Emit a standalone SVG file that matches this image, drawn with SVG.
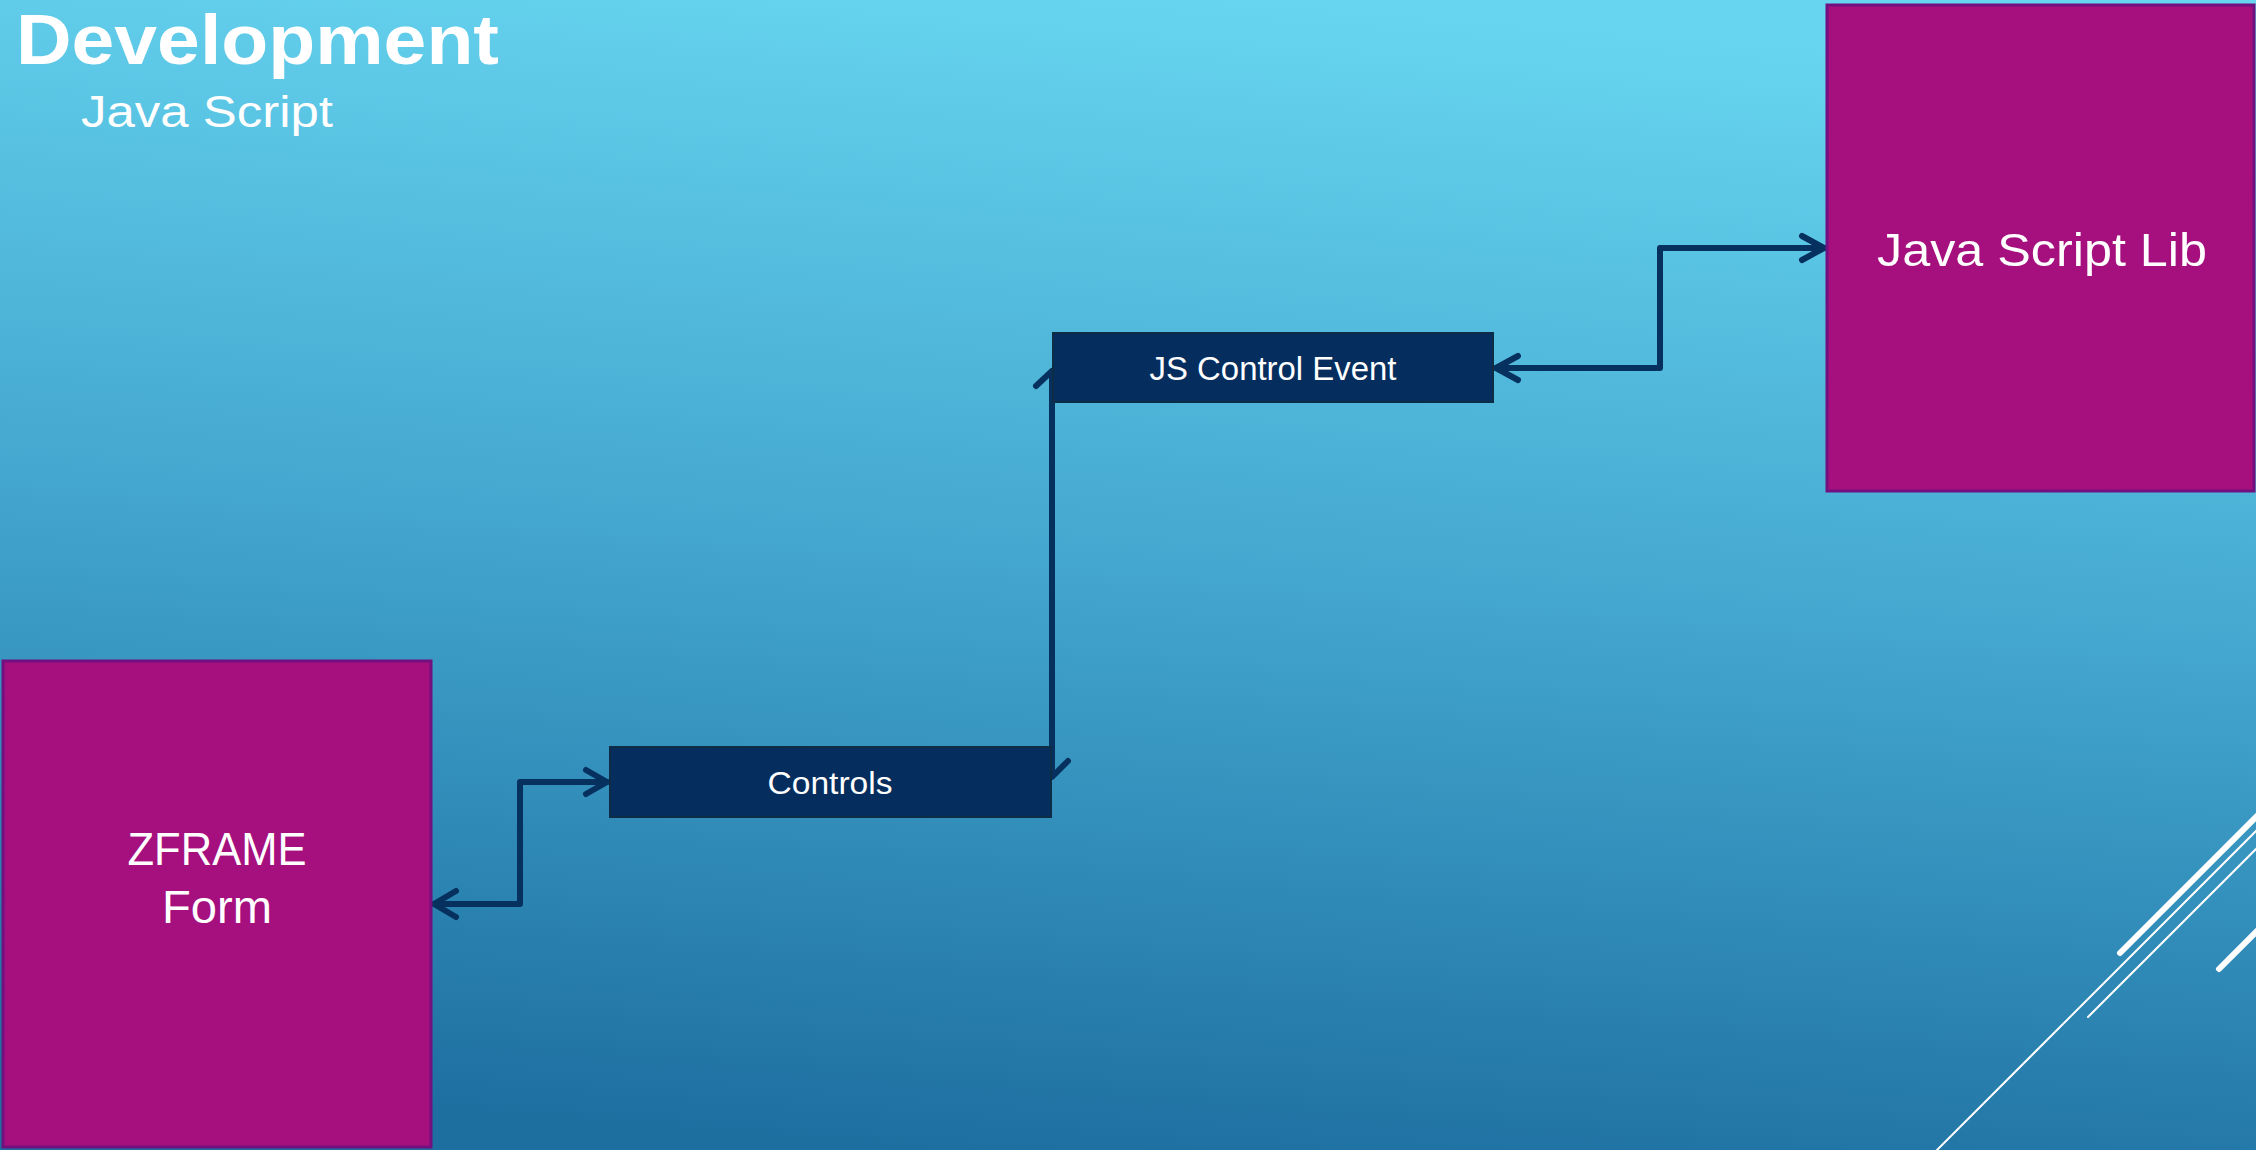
<svg xmlns="http://www.w3.org/2000/svg" width="2256" height="1150" viewBox="0 0 2256 1150">
<defs>
<linearGradient id="bg" x1="0.58" y1="0" x2="0.42" y2="1">
<stop offset="0" stop-color="#67d5f0"/>
<stop offset="0.5" stop-color="#43a6ce"/>
<stop offset="1" stop-color="#1d6fa0"/>
</linearGradient>
<style>
.big{fill:#a50f7e;stroke:#72107f;stroke-width:3}
.small{fill:#052e5f;stroke:#0c2d45;stroke-width:2}
.lbl{fill:#ffffff;font-family:"Liberation Sans",Arial,sans-serif;text-anchor:middle}
.con{fill:none;stroke:#06315f;stroke-width:6;stroke-linecap:round;stroke-linejoin:round}
.deco{stroke:#ffffff;stroke-linecap:round;fill:none}
</style>
</defs>
<rect x="0" y="0" width="2256" height="1150" fill="url(#bg)"/>
<g id="decoration">
<line class="deco" x1="2120" y1="953" x2="2262" y2="811" stroke-width="6"/>
<line class="deco" x1="1935" y1="1152" x2="2262" y2="825" stroke-width="2"/>
<line class="deco" x1="2088" y1="1017" x2="2262" y2="843" stroke-width="2"/>
<line class="deco" x1="2219" y1="969" x2="2262" y2="926" stroke-width="6"/>
</g>
<g id="title">
<text x="16" y="64" fill="#ffffff" font-family="'Liberation Sans',Arial,sans-serif" font-weight="bold" font-size="70" textLength="483" lengthAdjust="spacingAndGlyphs">Development</text>
<text x="81" y="127" fill="#ffffff" font-family="'Liberation Sans',Arial,sans-serif" font-size="44" textLength="252" lengthAdjust="spacingAndGlyphs">Java Script</text>
</g>
<g id="connectors">
<path class="con" d="M434,904 H520 V782 H607"/>
<path class="con" d="M456,891 L434,904 L456,917"/>
<path class="con" d="M586,770 L607,782 L586,794"/>
<path class="con" d="M1036,386 L1052,371 V777 L1068,761"/>
<path class="con" d="M1496,368 H1660 V248 H1824"/>
<path class="con" d="M1518,356 L1496,368 L1518,380"/>
<path class="con" d="M1802,236 L1824,248 L1802,260"/>
</g>
<g id="zframe">
<rect class="big" x="3" y="661" width="428" height="486"/>
<text class="lbl" x="217" y="865" font-size="46" textLength="179" lengthAdjust="spacingAndGlyphs">ZFRAME</text>
<text class="lbl" x="217" y="923" font-size="46" textLength="110" lengthAdjust="spacingAndGlyphs">Form</text>
</g>
<g id="controls">
<rect class="small" x="610" y="747" width="441" height="70"/>
<text class="lbl" x="830" y="794" font-size="32" textLength="125" lengthAdjust="spacingAndGlyphs">Controls</text>
</g>
<g id="jscontrolevent">
<rect class="small" x="1053" y="333" width="440" height="69"/>
<text class="lbl" x="1273" y="380" font-size="34" textLength="247" lengthAdjust="spacingAndGlyphs">JS Control Event</text>
</g>
<g id="jslib">
<rect class="big" x="1827" y="5" width="427" height="486"/>
<text class="lbl" x="2042" y="266" font-size="47" textLength="330" lengthAdjust="spacingAndGlyphs">Java Script Lib</text>
</g>
</svg>
